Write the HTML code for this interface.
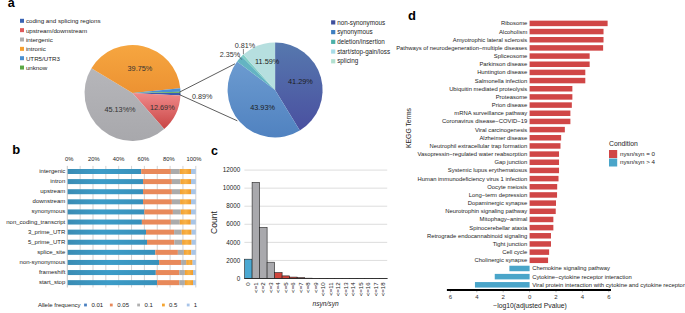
<!DOCTYPE html>
<html><head><meta charset="utf-8"><style>
html,body{margin:0;padding:0;background:#fff;width:685px;height:313px;overflow:hidden;}
svg{display:block;font-family:"Liberation Sans", sans-serif;}
</style></head><body>
<svg width="685" height="313" viewBox="0 0 685 313" font-family='"Liberation Sans", sans-serif'>
<rect width="685" height="313" fill="#fff"/>
<defs>
<linearGradient id="gRed" x1="0" y1="0" x2="0" y2="1"><stop offset="0" stop-color="#f08a8a"/><stop offset="1" stop-color="#c84444"/></linearGradient>
<linearGradient id="gGray" x1="0" y1="0" x2="0" y2="1"><stop offset="0" stop-color="#b6b6ba"/><stop offset="1" stop-color="#a8a8ac"/></linearGradient>
<linearGradient id="gOr" x1="0" y1="0" x2="0" y2="1"><stop offset="0" stop-color="#f6a640"/><stop offset="1" stop-color="#ec9232"/></linearGradient>
<linearGradient id="gNS" x1="0" y1="0" x2="0" y2="1"><stop offset="0" stop-color="#5678ae"/><stop offset="1" stop-color="#4a50a0"/></linearGradient>
<linearGradient id="gSyn" x1="0" y1="0" x2="0" y2="1"><stop offset="0" stop-color="#6c9bd0"/><stop offset="1" stop-color="#5082c0"/></linearGradient>
<linearGradient id="gB1" x1="0" y1="0" x2="1" y2="0"><stop offset="0" stop-color="#3a8cb4"/><stop offset="0.45" stop-color="#3c9cc8"/><stop offset="1" stop-color="#3890ba"/></linearGradient>
<linearGradient id="gB4" x1="0" y1="0" x2="1" y2="0"><stop offset="0" stop-color="#f2a030"/><stop offset="0.5" stop-color="#f8b248"/><stop offset="1" stop-color="#f09a28"/></linearGradient>
</defs>
<text x="7.80" y="7.20" font-size="12.5" text-anchor="start" fill="#000" font-weight="bold">a</text>
<rect x="20.0" y="18.80" width="4" height="4" fill="#3a64b4"/>
<text x="25.90" y="23.30" font-size="6.2" text-anchor="start" fill="#1c1c1c">coding and splicing regions</text>
<rect x="20.0" y="28.15" width="4" height="4" fill="#e05a5a"/>
<text x="25.90" y="32.65" font-size="6.2" text-anchor="start" fill="#1c1c1c">upstream/downstream</text>
<rect x="20.0" y="37.50" width="4" height="4" fill="#aeaeae"/>
<text x="25.90" y="42.00" font-size="6.2" text-anchor="start" fill="#1c1c1c">intergenic</text>
<rect x="20.0" y="46.85" width="4" height="4" fill="#f5a030"/>
<text x="25.90" y="51.35" font-size="6.2" text-anchor="start" fill="#1c1c1c">intronic</text>
<rect x="20.0" y="56.20" width="4" height="4" fill="#4a90d0"/>
<text x="25.90" y="60.70" font-size="6.2" text-anchor="start" fill="#1c1c1c">UTR5/UTR3</text>
<rect x="20.0" y="65.55" width="4" height="4" fill="#5aa845"/>
<text x="25.90" y="70.05" font-size="6.2" text-anchor="start" fill="#1c1c1c">unknow</text>
<path d="M132.50,93.00 L180.50,92.83 A48.0,48.0 0 0 1 180.43,95.52 Z" fill="#3a5cb0"/>
<path d="M132.50,93.00 L180.43,95.52 A48.0,48.0 0 0 1 164.19,129.05 Z" fill="url(#gRed)"/>
<path d="M132.50,93.00 L164.19,129.05 A48.0,48.0 0 0 1 91.42,68.17 Z" fill="url(#gGray)"/>
<path d="M132.50,93.00 L91.42,68.17 A48.0,48.0 0 0 1 180.26,88.20 Z" fill="url(#gOr)"/>
<path d="M132.50,93.00 L180.26,88.20 A48.0,48.0 0 0 1 180.49,91.81 Z" fill="#4a90d4"/>
<path d="M132.50,93.00 L180.49,91.81 A48.0,48.0 0 0 1 180.50,92.83 Z" fill="#5aa845"/>
<text x="139.90" y="70.80" font-size="7.3" text-anchor="middle" fill="#333">39.75%</text>
<text x="120.00" y="112.40" font-size="7.3" text-anchor="middle" fill="#333">45.13%%</text>
<text x="162.30" y="110.10" font-size="7.3" text-anchor="middle" fill="#333">12.69%</text>
<line x1="179.4" y1="92.2" x2="235.0" y2="63.8" stroke="#333" stroke-width="0.8"/>
<line x1="179.4" y1="94.6" x2="237.3" y2="120.8" stroke="#333" stroke-width="0.8"/>
<text x="202.10" y="99.20" font-size="7.2" text-anchor="middle" fill="#333">0.89%</text>
<path d="M275.10,90.00 L275.10,42.50 A47.5,47.5 0 0 1 299.82,130.56 Z" fill="url(#gNS)"/>
<path d="M275.10,90.00 L299.82,130.56 A47.5,47.5 0 0 1 237.06,61.55 Z" fill="url(#gSyn)"/>
<path d="M275.10,90.00 L237.06,61.55 A47.5,47.5 0 0 1 241.66,56.27 Z" fill="#64b4c2"/>
<path d="M275.10,90.00 L241.66,56.27 A47.5,47.5 0 0 1 243.42,54.61 Z" fill="#7ecec4"/>
<path d="M275.10,90.00 L243.42,54.61 A47.5,47.5 0 0 1 275.01,42.50 Z" fill="#b6dfdf"/>
<text x="300.40" y="83.80" font-size="7.3" text-anchor="middle" fill="#1c1c1c">41.29%</text>
<text x="262.60" y="110.20" font-size="7.3" text-anchor="middle" fill="#1c1c1c">43.93%</text>
<text x="267.20" y="64.10" font-size="7.3" text-anchor="middle" fill="#1c1c1c">11.59%</text>
<text x="229.90" y="56.90" font-size="7.2" text-anchor="middle" fill="#333">2.35%</text>
<text x="244.90" y="47.90" font-size="7.2" text-anchor="middle" fill="#333">0.81%</text>
<line x1="243.4" y1="49" x2="243.4" y2="54.2" stroke="#333" stroke-width="0.6"/>
<line x1="238.6" y1="56.0" x2="241.8" y2="59.6" stroke="#333" stroke-width="0.6"/>
<rect x="331.1" y="20.30" width="4.2" height="4.2" fill="#3f4f9c"/>
<text x="337.20" y="24.60" font-size="6.3" text-anchor="start" fill="#1c1c1c">non-synonymous</text>
<rect x="331.1" y="30.02" width="4.2" height="4.2" fill="#3f7fc0"/>
<text x="337.20" y="34.32" font-size="6.3" text-anchor="start" fill="#1c1c1c">synonymous</text>
<rect x="331.1" y="39.74" width="4.2" height="4.2" fill="#4cb0a8"/>
<text x="337.20" y="44.04" font-size="6.3" text-anchor="start" fill="#1c1c1c">deletion/insertion</text>
<rect x="331.1" y="49.46" width="4.2" height="4.2" fill="#a8dce8"/>
<text x="337.20" y="53.76" font-size="6.3" text-anchor="start" fill="#1c1c1c">start/stop-gain/loss</text>
<rect x="331.1" y="59.18" width="4.2" height="4.2" fill="#b2e0d0"/>
<text x="337.20" y="63.48" font-size="6.3" text-anchor="start" fill="#1c1c1c">splicing</text>
<text x="12.30" y="154.00" font-size="13" text-anchor="start" fill="#000" font-weight="bold">b</text>
<line x1="67.30" y1="165.9" x2="67.30" y2="287.5" stroke="#b8b8b8" stroke-width="0.8"/>
<line x1="80.15" y1="165.9" x2="80.15" y2="287.5" stroke="#c8c8c8" stroke-width="0.8"/>
<line x1="93.00" y1="165.9" x2="93.00" y2="287.5" stroke="#c8c8c8" stroke-width="0.8"/>
<line x1="105.85" y1="165.9" x2="105.85" y2="287.5" stroke="#c8c8c8" stroke-width="0.8"/>
<line x1="118.70" y1="165.9" x2="118.70" y2="287.5" stroke="#c8c8c8" stroke-width="0.8"/>
<line x1="131.55" y1="165.9" x2="131.55" y2="287.5" stroke="#c8c8c8" stroke-width="0.8"/>
<line x1="144.40" y1="165.9" x2="144.40" y2="287.5" stroke="#c8c8c8" stroke-width="0.8"/>
<line x1="157.25" y1="165.9" x2="157.25" y2="287.5" stroke="#c8c8c8" stroke-width="0.8"/>
<line x1="170.10" y1="165.9" x2="170.10" y2="287.5" stroke="#c8c8c8" stroke-width="0.8"/>
<line x1="182.95" y1="165.9" x2="182.95" y2="287.5" stroke="#c8c8c8" stroke-width="0.8"/>
<line x1="195.80" y1="165.9" x2="195.80" y2="287.5" stroke="#c8c8c8" stroke-width="0.8"/>
<text x="69.20" y="161.00" font-size="5.8" text-anchor="middle" fill="#1c1c1c">0%</text>
<text x="93.90" y="161.00" font-size="5.8" text-anchor="middle" fill="#1c1c1c">20%</text>
<text x="118.50" y="161.00" font-size="5.8" text-anchor="middle" fill="#1c1c1c">40%</text>
<text x="143.40" y="161.00" font-size="5.8" text-anchor="middle" fill="#1c1c1c">60%</text>
<text x="168.80" y="161.00" font-size="5.8" text-anchor="middle" fill="#1c1c1c">80%</text>
<text x="193.90" y="161.00" font-size="5.8" text-anchor="middle" fill="#1c1c1c">100%</text>
<rect x="67.70" y="169.00" width="73.50" height="5" fill="url(#gB1)"/>
<rect x="141.20" y="169.00" width="29.70" height="5" fill="#e8895a"/>
<rect x="170.90" y="169.00" width="8.90" height="5" fill="#ababab"/>
<rect x="179.80" y="169.00" width="11.20" height="5" fill="url(#gB4)"/>
<rect x="191.00" y="169.00" width="4.80" height="5" fill="#a9c5e6"/>
<text x="65.30" y="173.00" font-size="6.0" text-anchor="end" fill="#1c1c1c">intergenic</text>
<rect x="67.70" y="179.10" width="75.30" height="5" fill="url(#gB1)"/>
<rect x="143.00" y="179.10" width="28.90" height="5" fill="#e8895a"/>
<rect x="171.90" y="179.10" width="8.50" height="5" fill="#ababab"/>
<rect x="180.40" y="179.10" width="10.60" height="5" fill="url(#gB4)"/>
<rect x="191.00" y="179.10" width="4.80" height="5" fill="#a9c5e6"/>
<text x="65.30" y="183.10" font-size="6.0" text-anchor="end" fill="#1c1c1c">intron</text>
<rect x="67.70" y="189.21" width="75.30" height="5" fill="url(#gB1)"/>
<rect x="143.00" y="189.21" width="28.90" height="5" fill="#e8895a"/>
<rect x="171.90" y="189.21" width="8.10" height="5" fill="#ababab"/>
<rect x="180.00" y="189.21" width="11.00" height="5" fill="url(#gB4)"/>
<rect x="191.00" y="189.21" width="4.80" height="5" fill="#a9c5e6"/>
<text x="65.30" y="193.21" font-size="6.0" text-anchor="end" fill="#1c1c1c">upstream</text>
<rect x="67.70" y="199.31" width="75.30" height="5" fill="url(#gB1)"/>
<rect x="143.00" y="199.31" width="28.90" height="5" fill="#e8895a"/>
<rect x="171.90" y="199.31" width="8.20" height="5" fill="#ababab"/>
<rect x="180.10" y="199.31" width="10.90" height="5" fill="url(#gB4)"/>
<rect x="191.00" y="199.31" width="4.80" height="5" fill="#a9c5e6"/>
<text x="65.30" y="203.31" font-size="6.0" text-anchor="end" fill="#1c1c1c">downstream</text>
<rect x="67.70" y="209.42" width="76.60" height="5" fill="url(#gB1)"/>
<rect x="144.30" y="209.42" width="28.60" height="5" fill="#e8895a"/>
<rect x="172.90" y="209.42" width="7.90" height="5" fill="#ababab"/>
<rect x="180.80" y="209.42" width="10.20" height="5" fill="url(#gB4)"/>
<rect x="191.00" y="209.42" width="4.80" height="5" fill="#a9c5e6"/>
<text x="65.30" y="213.42" font-size="6.0" text-anchor="end" fill="#1c1c1c">synonymous</text>
<rect x="67.70" y="219.53" width="74.20" height="5" fill="url(#gB1)"/>
<rect x="141.90" y="219.53" width="29.00" height="5" fill="#e8895a"/>
<rect x="170.90" y="219.53" width="8.90" height="5" fill="#ababab"/>
<rect x="179.80" y="219.53" width="11.00" height="5" fill="url(#gB4)"/>
<rect x="190.80" y="219.53" width="5.00" height="5" fill="#a9c5e6"/>
<text x="65.30" y="223.53" font-size="6.0" text-anchor="end" fill="#1c1c1c">non_coding_transcript</text>
<rect x="67.70" y="229.63" width="78.30" height="5" fill="url(#gB1)"/>
<rect x="146.00" y="229.63" width="28.10" height="5" fill="#e8895a"/>
<rect x="174.10" y="229.63" width="7.60" height="5" fill="#ababab"/>
<rect x="181.70" y="229.63" width="9.90" height="5" fill="url(#gB4)"/>
<rect x="191.60" y="229.63" width="4.20" height="5" fill="#a9c5e6"/>
<text x="65.30" y="233.63" font-size="6.0" text-anchor="end" fill="#1c1c1c">3_prime_UTR</text>
<rect x="67.70" y="239.74" width="79.30" height="5" fill="url(#gB1)"/>
<rect x="147.00" y="239.74" width="27.30" height="5" fill="#e8895a"/>
<rect x="174.30" y="239.74" width="7.80" height="5" fill="#ababab"/>
<rect x="182.10" y="239.74" width="9.50" height="5" fill="url(#gB4)"/>
<rect x="191.60" y="239.74" width="4.20" height="5" fill="#a9c5e6"/>
<text x="65.30" y="243.74" font-size="6.0" text-anchor="end" fill="#1c1c1c">5_prime_UTR</text>
<rect x="67.70" y="249.84" width="87.60" height="5" fill="url(#gB1)"/>
<rect x="155.30" y="249.84" width="22.60" height="5" fill="#e8895a"/>
<rect x="177.90" y="249.84" width="6.00" height="5" fill="#ababab"/>
<rect x="183.90" y="249.84" width="7.40" height="5" fill="url(#gB4)"/>
<rect x="191.30" y="249.84" width="4.50" height="5" fill="#a9c5e6"/>
<text x="65.30" y="253.84" font-size="6.0" text-anchor="end" fill="#1c1c1c">splice_site</text>
<rect x="67.70" y="259.94" width="91.40" height="5" fill="url(#gB1)"/>
<rect x="159.10" y="259.94" width="22.00" height="5" fill="#e8895a"/>
<rect x="181.10" y="259.94" width="5.10" height="5" fill="#ababab"/>
<rect x="186.20" y="259.94" width="6.40" height="5" fill="url(#gB4)"/>
<rect x="192.60" y="259.94" width="3.20" height="5" fill="#a9c5e6"/>
<text x="65.30" y="263.94" font-size="6.0" text-anchor="end" fill="#1c1c1c">non-synonymous</text>
<rect x="67.70" y="270.05" width="88.10" height="5" fill="url(#gB1)"/>
<rect x="155.80" y="270.05" width="23.40" height="5" fill="#e8895a"/>
<rect x="179.20" y="270.05" width="5.70" height="5" fill="#ababab"/>
<rect x="184.90" y="270.05" width="8.10" height="5" fill="url(#gB4)"/>
<rect x="193.00" y="270.05" width="2.80" height="5" fill="#a9c5e6"/>
<text x="65.30" y="274.05" font-size="6.0" text-anchor="end" fill="#1c1c1c">frameshift</text>
<rect x="67.70" y="280.15" width="89.40" height="5" fill="url(#gB1)"/>
<rect x="157.10" y="280.15" width="22.10" height="5" fill="#e8895a"/>
<rect x="179.20" y="280.15" width="5.70" height="5" fill="#ababab"/>
<rect x="184.90" y="280.15" width="8.10" height="5" fill="url(#gB4)"/>
<rect x="193.00" y="280.15" width="2.80" height="5" fill="#a9c5e6"/>
<text x="65.30" y="284.15" font-size="6.0" text-anchor="end" fill="#1c1c1c">start_stop</text>
<text x="37.90" y="306.70" font-size="6.0" text-anchor="start" fill="#1c1c1c">Allele frequency</text>
<rect x="84.1" y="303.6" width="2.8" height="2.8" fill="#4a80c0"/>
<text x="91.50" y="306.70" font-size="6.0" text-anchor="start" fill="#1c1c1c">0.01</text>
<rect x="109.9" y="303.6" width="2.8" height="2.8" fill="#e8895a"/>
<text x="117.30" y="306.70" font-size="6.0" text-anchor="start" fill="#1c1c1c">0.05</text>
<rect x="137.2" y="303.6" width="2.8" height="2.8" fill="#b0b0b0"/>
<text x="144.60" y="306.70" font-size="6.0" text-anchor="start" fill="#1c1c1c">0.1</text>
<rect x="162.0" y="303.6" width="2.8" height="2.8" fill="#f5a530"/>
<text x="169.00" y="306.70" font-size="6.0" text-anchor="start" fill="#1c1c1c">0.5</text>
<rect x="186.8" y="303.6" width="2.8" height="2.8" fill="#a8c4e8"/>
<text x="193.80" y="306.70" font-size="6.0" text-anchor="start" fill="#1c1c1c">1</text>
<text x="211.00" y="155.20" font-size="12.5" text-anchor="start" fill="#000" font-weight="bold">c</text>
<line x1="244.4" y1="260.43" x2="387.2" y2="260.43" stroke="#d4d4d4" stroke-width="0.8"/>
<line x1="244.4" y1="242.36" x2="387.2" y2="242.36" stroke="#d4d4d4" stroke-width="0.8"/>
<line x1="244.4" y1="224.29" x2="387.2" y2="224.29" stroke="#d4d4d4" stroke-width="0.8"/>
<line x1="244.4" y1="206.22" x2="387.2" y2="206.22" stroke="#d4d4d4" stroke-width="0.8"/>
<line x1="244.4" y1="188.15" x2="387.2" y2="188.15" stroke="#d4d4d4" stroke-width="0.8"/>
<line x1="244.4" y1="170.08" x2="387.2" y2="170.08" stroke="#d4d4d4" stroke-width="0.8"/>
<text x="240.30" y="280.70" font-size="6.3" text-anchor="end" fill="#1c1c1c">0</text>
<text x="240.30" y="262.63" font-size="6.3" text-anchor="end" fill="#1c1c1c">2000</text>
<text x="240.30" y="244.56" font-size="6.3" text-anchor="end" fill="#1c1c1c">4000</text>
<text x="240.30" y="226.49" font-size="6.3" text-anchor="end" fill="#1c1c1c">6000</text>
<text x="240.30" y="208.42" font-size="6.3" text-anchor="end" fill="#1c1c1c">8000</text>
<text x="240.30" y="190.35" font-size="6.3" text-anchor="end" fill="#1c1c1c">10000</text>
<text x="240.30" y="172.28" font-size="6.3" text-anchor="end" fill="#1c1c1c">12000</text>
<rect x="244.60" y="259.20" width="7.5" height="19.30" fill="#4aa8d2" stroke="#222" stroke-width="0.6"/>
<rect x="252.10" y="182.40" width="7.5" height="96.10" fill="#a9a9ad" stroke="#222" stroke-width="0.6"/>
<rect x="259.60" y="227.40" width="7.5" height="51.10" fill="#a9a9ad" stroke="#222" stroke-width="0.6"/>
<rect x="267.10" y="262.20" width="7.5" height="16.30" fill="#a9a9ad" stroke="#222" stroke-width="0.6"/>
<rect x="274.60" y="272.60" width="7.5" height="5.90" fill="#d0453c" stroke="#222" stroke-width="0.6"/>
<rect x="282.10" y="275.88" width="7.5" height="2.62" fill="#d0453c" stroke="#222" stroke-width="0.6"/>
<rect x="289.60" y="277.09" width="7.5" height="1.41" fill="#d0453c" stroke="#222" stroke-width="0.6"/>
<rect x="297.10" y="277.69" width="7.5" height="0.81" fill="#d0453c" stroke="#222" stroke-width="0.6"/>
<rect x="304.60" y="278.18" width="7.5" height="0.32" fill="#d0453c" stroke="#222" stroke-width="0.6"/>
<rect x="312.10" y="278.39" width="7.5" height="0.11" fill="#d0453c" stroke="#222" stroke-width="0.6"/>
<rect x="319.60" y="278.45" width="7.5" height="0.05" fill="#d0453c" stroke="#222" stroke-width="0.6"/>
<rect x="327.10" y="278.46" width="7.5" height="0.04" fill="#d0453c" stroke="#222" stroke-width="0.6"/>
<rect x="334.60" y="278.47" width="7.5" height="0.03" fill="#d0453c" stroke="#222" stroke-width="0.6"/>
<rect x="342.10" y="278.48" width="7.5" height="0.02" fill="#d0453c" stroke="#222" stroke-width="0.6"/>
<rect x="349.60" y="278.48" width="7.5" height="0.02" fill="#d0453c" stroke="#222" stroke-width="0.6"/>
<rect x="357.10" y="278.49" width="7.5" height="0.01" fill="#d0453c" stroke="#222" stroke-width="0.6"/>
<rect x="364.60" y="278.49" width="7.5" height="0.01" fill="#d0453c" stroke="#222" stroke-width="0.6"/>
<rect x="372.10" y="278.49" width="7.5" height="0.01" fill="#d0453c" stroke="#222" stroke-width="0.6"/>
<rect x="379.60" y="278.49" width="7.5" height="0.01" fill="#d0453c" stroke="#222" stroke-width="0.6"/>
<line x1="244.4" y1="278.5" x2="387.5" y2="278.5" stroke="#222" stroke-width="0.8"/>
<text x="0.00" y="0.00" font-size="6.1" text-anchor="end" fill="#1c1c1c" transform="translate(250.30,282.4) rotate(-90)">0</text>
<text x="0.00" y="0.00" font-size="6.1" text-anchor="end" fill="#1c1c1c" transform="translate(257.80,282.4) rotate(-90)">&lt;=1</text>
<text x="0.00" y="0.00" font-size="6.1" text-anchor="end" fill="#1c1c1c" transform="translate(265.30,282.4) rotate(-90)">&lt;=2</text>
<text x="0.00" y="0.00" font-size="6.1" text-anchor="end" fill="#1c1c1c" transform="translate(272.80,282.4) rotate(-90)">&lt;=3</text>
<text x="0.00" y="0.00" font-size="6.1" text-anchor="end" fill="#1c1c1c" transform="translate(280.30,282.4) rotate(-90)">&lt;=4</text>
<text x="0.00" y="0.00" font-size="6.1" text-anchor="end" fill="#1c1c1c" transform="translate(287.80,282.4) rotate(-90)">&lt;=5</text>
<text x="0.00" y="0.00" font-size="6.1" text-anchor="end" fill="#1c1c1c" transform="translate(295.30,282.4) rotate(-90)">&lt;=6</text>
<text x="0.00" y="0.00" font-size="6.1" text-anchor="end" fill="#1c1c1c" transform="translate(302.80,282.4) rotate(-90)">&lt;=7</text>
<text x="0.00" y="0.00" font-size="6.1" text-anchor="end" fill="#1c1c1c" transform="translate(310.30,282.4) rotate(-90)">&lt;=8</text>
<text x="0.00" y="0.00" font-size="6.1" text-anchor="end" fill="#1c1c1c" transform="translate(317.80,282.4) rotate(-90)">&lt;=9</text>
<text x="0.00" y="0.00" font-size="6.1" text-anchor="end" fill="#1c1c1c" transform="translate(325.30,282.4) rotate(-90)">&lt;=10</text>
<text x="0.00" y="0.00" font-size="6.1" text-anchor="end" fill="#1c1c1c" transform="translate(332.80,282.4) rotate(-90)">&lt;=11</text>
<text x="0.00" y="0.00" font-size="6.1" text-anchor="end" fill="#1c1c1c" transform="translate(340.30,282.4) rotate(-90)">&lt;=12</text>
<text x="0.00" y="0.00" font-size="6.1" text-anchor="end" fill="#1c1c1c" transform="translate(347.80,282.4) rotate(-90)">&lt;=13</text>
<text x="0.00" y="0.00" font-size="6.1" text-anchor="end" fill="#1c1c1c" transform="translate(355.30,282.4) rotate(-90)">&lt;=14</text>
<text x="0.00" y="0.00" font-size="6.1" text-anchor="end" fill="#1c1c1c" transform="translate(362.80,282.4) rotate(-90)">&lt;=15</text>
<text x="0.00" y="0.00" font-size="6.1" text-anchor="end" fill="#1c1c1c" transform="translate(370.30,282.4) rotate(-90)">&lt;=16</text>
<text x="0.00" y="0.00" font-size="6.1" text-anchor="end" fill="#1c1c1c" transform="translate(377.80,282.4) rotate(-90)">&lt;=17</text>
<text x="0.00" y="0.00" font-size="6.1" text-anchor="end" fill="#1c1c1c" transform="translate(385.30,282.4) rotate(-90)">&lt;=18</text>
<text x="0.00" y="0.00" font-size="8.6" text-anchor="middle" fill="#1c1c1c" transform="translate(216.8,222.6) rotate(-90)">Count</text>
<text x="312.60" y="306.00" font-size="6.6" text-anchor="start" fill="#1c1c1c" font-style="italic">nsyn/syn</text>
<text x="408.00" y="19.90" font-size="13" text-anchor="start" fill="#000" font-weight="bold">d</text>
<rect x="529.60" y="20.65" width="78.01" height="5.5" fill="#d04646"/>
<text x="527.30" y="25.40" font-size="5.87" text-anchor="end" fill="#1c1c1c">Ribosome</text>
<rect x="529.60" y="28.82" width="73.92" height="5.5" fill="#d04646"/>
<text x="527.30" y="33.57" font-size="5.87" text-anchor="end" fill="#1c1c1c">Alcoholism</text>
<rect x="529.60" y="36.99" width="73.92" height="5.5" fill="#d04646"/>
<text x="527.30" y="41.74" font-size="5.87" text-anchor="end" fill="#1c1c1c">Amyotrophic lateral sclerosis</text>
<rect x="529.60" y="45.16" width="73.52" height="5.5" fill="#d04646"/>
<text x="527.30" y="49.91" font-size="5.87" text-anchor="end" fill="#1c1c1c">Pathways of neurodegeneration−multiple diseases</text>
<rect x="529.60" y="53.33" width="60.06" height="5.5" fill="#d04646"/>
<text x="527.30" y="58.08" font-size="5.87" text-anchor="end" fill="#1c1c1c">Spliceosome</text>
<rect x="529.60" y="61.50" width="60.06" height="5.5" fill="#d04646"/>
<text x="527.30" y="66.25" font-size="5.87" text-anchor="end" fill="#1c1c1c">Parkinson disease</text>
<rect x="529.60" y="69.66" width="55.70" height="5.5" fill="#d04646"/>
<text x="527.30" y="74.41" font-size="5.87" text-anchor="end" fill="#1c1c1c">Huntington disease</text>
<rect x="529.60" y="77.83" width="55.70" height="5.5" fill="#d04646"/>
<text x="527.30" y="82.58" font-size="5.87" text-anchor="end" fill="#1c1c1c">Salmonella infection</text>
<rect x="529.60" y="86.00" width="42.77" height="5.5" fill="#d04646"/>
<text x="527.30" y="90.75" font-size="5.87" text-anchor="end" fill="#1c1c1c">Ubiquitin mediated proteolysis</text>
<rect x="529.60" y="94.17" width="42.77" height="5.5" fill="#d04646"/>
<text x="527.30" y="98.92" font-size="5.87" text-anchor="end" fill="#1c1c1c">Proteasome</text>
<rect x="529.60" y="102.34" width="42.24" height="5.5" fill="#d04646"/>
<text x="527.30" y="107.09" font-size="5.87" text-anchor="end" fill="#1c1c1c">Prion disease</text>
<rect x="529.60" y="110.51" width="40.79" height="5.5" fill="#d04646"/>
<text x="527.30" y="115.26" font-size="5.87" text-anchor="end" fill="#1c1c1c">mRNA surveillance pathway</text>
<rect x="529.60" y="118.68" width="40.79" height="5.5" fill="#d04646"/>
<text x="527.30" y="123.43" font-size="5.87" text-anchor="end" fill="#1c1c1c">Coronavirus disease−COVID−19</text>
<rect x="529.60" y="126.85" width="35.24" height="5.5" fill="#d04646"/>
<text x="527.30" y="131.60" font-size="5.87" text-anchor="end" fill="#1c1c1c">Viral carcinogenesis</text>
<rect x="529.60" y="135.02" width="31.55" height="5.5" fill="#d04646"/>
<text x="527.30" y="139.77" font-size="5.87" text-anchor="end" fill="#1c1c1c">Alzheimer disease</text>
<rect x="529.60" y="143.19" width="30.89" height="5.5" fill="#d04646"/>
<text x="527.30" y="147.94" font-size="5.87" text-anchor="end" fill="#1c1c1c">Neutrophil extracellular trap formation</text>
<rect x="529.60" y="151.35" width="29.44" height="5.5" fill="#d04646"/>
<text x="527.30" y="156.10" font-size="5.87" text-anchor="end" fill="#1c1c1c">Vasopressin−regulated water reabsorption</text>
<rect x="529.60" y="159.52" width="29.44" height="5.5" fill="#d04646"/>
<text x="527.30" y="164.27" font-size="5.87" text-anchor="end" fill="#1c1c1c">Gap junction</text>
<rect x="529.60" y="167.69" width="29.44" height="5.5" fill="#d04646"/>
<text x="527.30" y="172.44" font-size="5.87" text-anchor="end" fill="#1c1c1c">Systemic lupus erythematosus</text>
<rect x="529.60" y="175.86" width="28.91" height="5.5" fill="#d04646"/>
<text x="527.30" y="180.61" font-size="5.87" text-anchor="end" fill="#1c1c1c">Human immunodeficiency virus 1 infection</text>
<rect x="529.60" y="184.03" width="27.59" height="5.5" fill="#d04646"/>
<text x="527.30" y="188.78" font-size="5.87" text-anchor="end" fill="#1c1c1c">Oocyte meiosis</text>
<rect x="529.60" y="192.20" width="27.46" height="5.5" fill="#d04646"/>
<text x="527.30" y="196.95" font-size="5.87" text-anchor="end" fill="#1c1c1c">Long−term depression</text>
<rect x="529.60" y="200.37" width="26.40" height="5.5" fill="#d04646"/>
<text x="527.30" y="205.12" font-size="5.87" text-anchor="end" fill="#1c1c1c">Dopaminergic synapse</text>
<rect x="529.60" y="208.54" width="26.14" height="5.5" fill="#d04646"/>
<text x="527.30" y="213.29" font-size="5.87" text-anchor="end" fill="#1c1c1c">Neurotrophin signaling pathway</text>
<rect x="529.60" y="216.71" width="23.76" height="5.5" fill="#d04646"/>
<text x="527.30" y="221.46" font-size="5.87" text-anchor="end" fill="#1c1c1c">Mitophagy−animal</text>
<rect x="529.60" y="224.88" width="23.76" height="5.5" fill="#d04646"/>
<text x="527.30" y="229.63" font-size="5.87" text-anchor="end" fill="#1c1c1c">Spinocerebellar ataxia</text>
<rect x="529.60" y="233.04" width="21.38" height="5.5" fill="#d04646"/>
<text x="527.30" y="237.79" font-size="5.87" text-anchor="end" fill="#1c1c1c">Retrograde endocannabinoid signaling</text>
<rect x="529.60" y="241.21" width="21.38" height="5.5" fill="#d04646"/>
<text x="527.30" y="245.96" font-size="5.87" text-anchor="end" fill="#1c1c1c">Tight junction</text>
<rect x="529.60" y="249.38" width="19.54" height="5.5" fill="#d04646"/>
<text x="527.30" y="254.13" font-size="5.87" text-anchor="end" fill="#1c1c1c">Cell cycle</text>
<rect x="529.60" y="257.55" width="18.48" height="5.5" fill="#d04646"/>
<text x="527.30" y="262.30" font-size="5.87" text-anchor="end" fill="#1c1c1c">Cholinergic synapse</text>
<rect x="509.40" y="265.72" width="20.20" height="5.5" fill="#4aa5c9"/>
<text x="532.20" y="270.47" font-size="5.87" text-anchor="start" fill="#1c1c1c">Chemokine signaling pathway</text>
<rect x="494.75" y="273.89" width="34.85" height="5.5" fill="#4aa5c9"/>
<text x="532.20" y="278.64" font-size="5.87" text-anchor="start" fill="#1c1c1c">Cytokine−cytokine receptor interaction</text>
<rect x="474.95" y="282.06" width="54.65" height="5.5" fill="#4aa5c9"/>
<text x="532.20" y="286.81" font-size="5.87" text-anchor="start" fill="#1c1c1c">Viral protein interaction with cytokine and cytokine receptor</text>
<line x1="446.9" y1="290" x2="611" y2="290" stroke="#000" stroke-width="2"/>
<line x1="450.40" y1="291" x2="450.40" y2="292.3" stroke="#888" stroke-width="0.6"/>
<text x="450.40" y="298.70" font-size="6.0" text-anchor="middle" fill="#333">6</text>
<line x1="476.80" y1="291" x2="476.80" y2="292.3" stroke="#888" stroke-width="0.6"/>
<text x="476.80" y="298.70" font-size="6.0" text-anchor="middle" fill="#333">4</text>
<line x1="503.20" y1="291" x2="503.20" y2="292.3" stroke="#888" stroke-width="0.6"/>
<text x="503.20" y="298.70" font-size="6.0" text-anchor="middle" fill="#333">2</text>
<line x1="529.60" y1="291" x2="529.60" y2="292.3" stroke="#888" stroke-width="0.6"/>
<text x="529.60" y="298.70" font-size="6.0" text-anchor="middle" fill="#333">0</text>
<line x1="556.00" y1="291" x2="556.00" y2="292.3" stroke="#888" stroke-width="0.6"/>
<text x="556.00" y="298.70" font-size="6.0" text-anchor="middle" fill="#333">2</text>
<line x1="582.40" y1="291" x2="582.40" y2="292.3" stroke="#888" stroke-width="0.6"/>
<text x="582.40" y="298.70" font-size="6.0" text-anchor="middle" fill="#333">4</text>
<line x1="608.80" y1="291" x2="608.80" y2="292.3" stroke="#888" stroke-width="0.6"/>
<text x="608.80" y="298.70" font-size="6.0" text-anchor="middle" fill="#333">6</text>
<text x="530.00" y="308.20" font-size="6.8" text-anchor="middle" fill="#1c1c1c">−log10(adjusted Pvalue)</text>
<text x="0.00" y="0.00" font-size="6.8" text-anchor="middle" fill="#1c1c1c" transform="translate(411.0,128) rotate(-90)">KEGG Terms</text>
<text x="609.00" y="146.40" font-size="6.8" text-anchor="start" fill="#1c1c1c">Condition</text>
<rect x="609" y="150" width="8.2" height="8" fill="#d04646"/>
<rect x="609" y="158.5" width="8.2" height="8" fill="#4aa5c9"/>
<text x="620.00" y="156.20" font-size="6.2" text-anchor="start" fill="#1c1c1c">nysn/syn = 0</text>
<text x="620.00" y="164.40" font-size="6.2" text-anchor="start" fill="#1c1c1c">nysn/syn &gt; 4</text>
</svg>
</body></html>
